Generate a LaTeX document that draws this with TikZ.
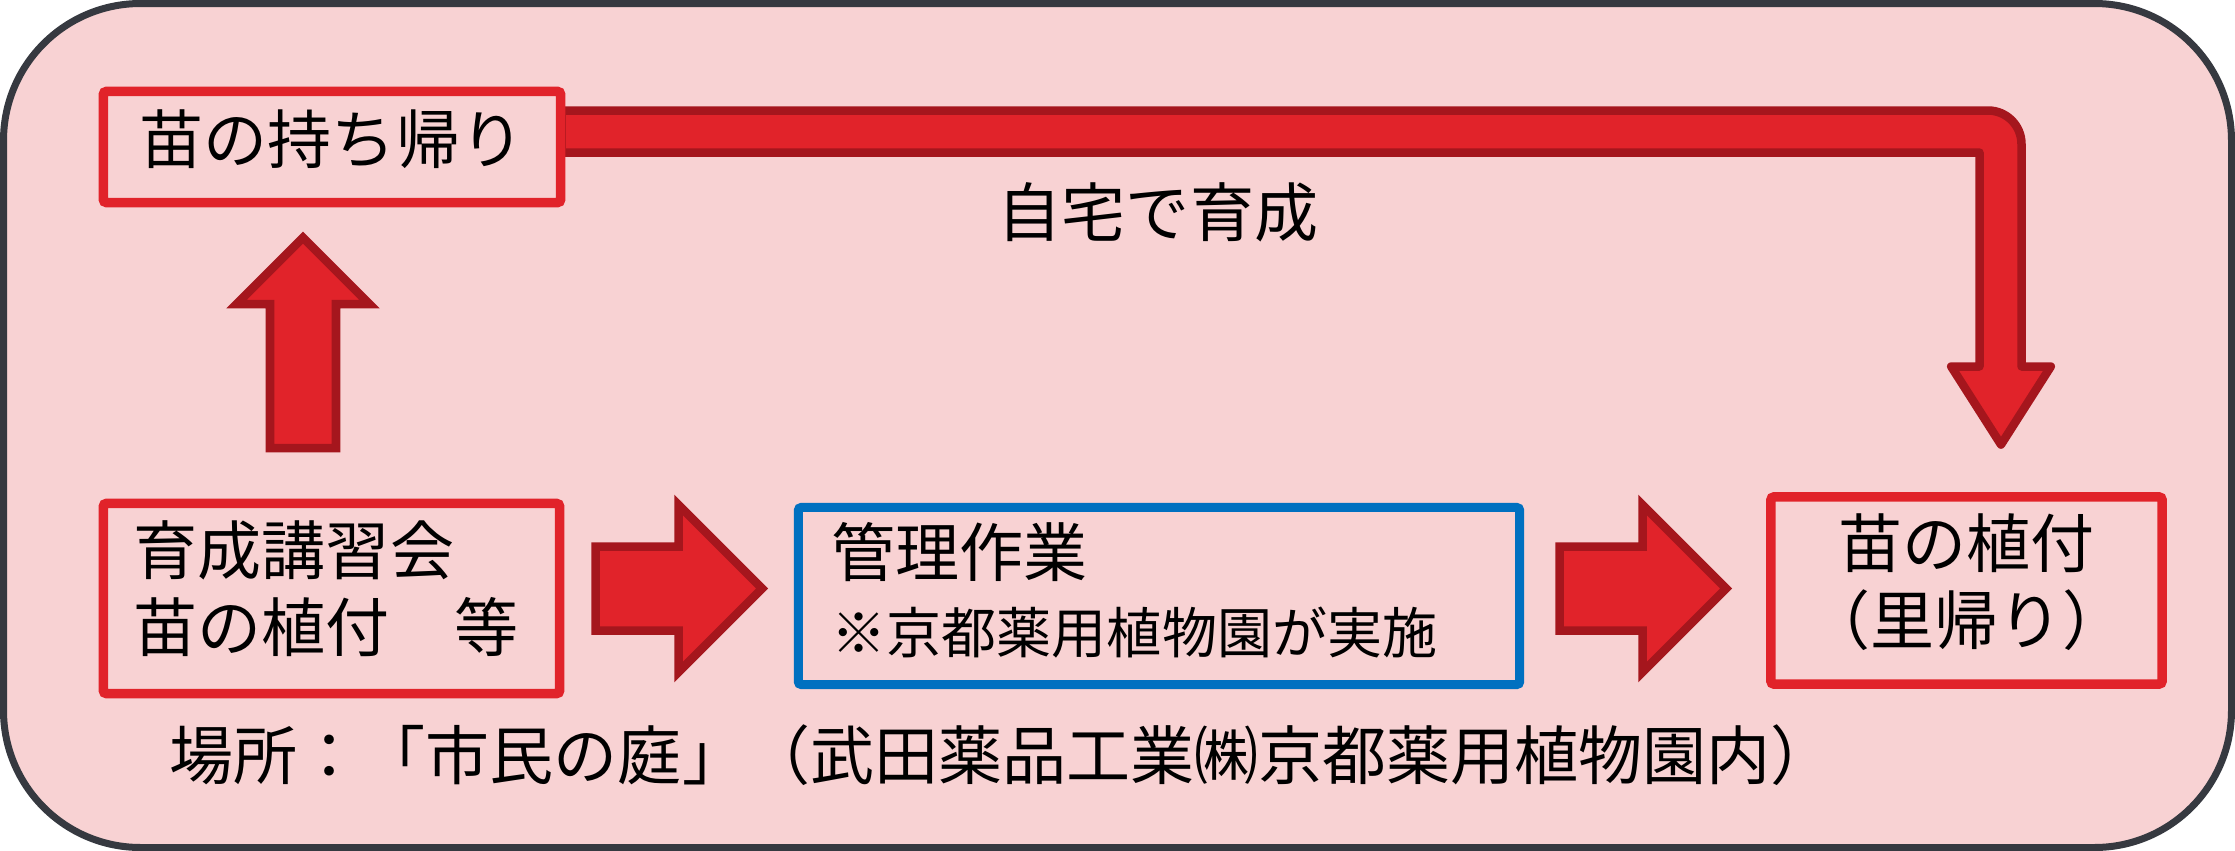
\documentclass[tikz,border=0pt]{standalone}
\usepackage{fontspec}
\setmainfont{Noto Sans CJK JP}
\definecolor{framegray}{HTML}{363940}
\definecolor{bgpink}{HTML}{F8D2D3}
\definecolor{boxred}{HTML}{E1232A}
\definecolor{arrowred}{HTML}{A5161D}
\definecolor{boxblue}{HTML}{0070C0}

\begin{document}
\begin{tikzpicture}[x=0.01cm,y=-0.01cm]
      % Define styles for nodes
      \tikzstyle{redbox} = [draw=boxred, rectangle, rounded corners=0.03cm,
      fill=bgpink, line width=0.095cm, inner sep=0pt, text height=0.55cm,
      font=\fontsize{18.21pt}{21.91pt}\selectfont]
      \tikzstyle{bluebox} = [redbox, draw=boxblue, line width=0.09cm]
      \tikzstyle{plaintext} = [inner sep=0pt,
      font=\fontsize{18.21pt}{21.91pt}\selectfont]
      \tikzstyle{blockarrow} = [draw=arrowred, fill=boxred, line width=0.085cm]

      \useasboundingbox (0,0) rectangle (2235,851);

      % Pink frame with round corners
      \draw[framegray, fill=bgpink, line width=0.07cm, rounded corners=1.37cm]
      (3.5,3.5) rectangle (2231.5,847.5);

      % Big arrows
      \draw[blockarrow] (303,237.7) -- (369.3,304) -- (336,304) -- (336,448)
      -- (270,448) -- (270,304) -- (236.7,304) -- cycle;
      \foreach \dx in {0,964}
      \draw[blockarrow, shift={(\dx,0)}] (595.5,546.5) -- (678.5,546.5)
      -- (678.5,504.9) -- (762.1,588.5) -- (678.5,672.1) -- (678.5,630.5)
      -- (595.5,630.5) -- cycle;
      \draw[blockarrow, line join=round] (561.5,110.5) -- (1988,110.5)
      .. controls (2006.5,110.5) and (2021.5,125.5) .. (2021.5,144)
      -- (2021.5,366.5) -- (2050.8,366.5) -- (2001,444.6) -- (1951.2,366.5)
      -- (1979.5,366.5) -- (1979.5,152.5) -- (561.5,152.5) -- cycle;

      % Boxes
      \node[redbox, minimum width=4.57cm, minimum height=1.11cm,
      text depth=0.224cm] (keep) at (332,147) {苗の持ち帰り};
      \node[redbox, minimum width=4.56cm, minimum height=1.90cm,
      text width=3.95cm, align=left, text depth=1.034cm]
      (course) at (331.5,598.5) {育成講習会\\苗の植付　等};
      \node[bluebox, minimum width=7.21cm, minimum height=1.77cm,
      text width=6.54cm, align=left, text depth=0.944cm]
      (care) at (1159,596)
      {管理作業\\\fontsize{15.65pt}{20.09pt}\selectfont ※京都薬用植物園が実施};
      \node[redbox, minimum width=3.91cm, minimum height=1.87cm,
      text width=3.6cm, align=center, text depth=1.004cm]
      (plant) at (1966.5,590.5) {苗の植付\\（里帰り）};

      % Texts outside the boxes
      \node[plaintext, anchor=base] (home) at (1158,236.3) {自宅で育成};
      \node[plaintext, anchor=base west] (place) at (169,779.3)
      {場所：「市民の庭」（武田薬品工業㈱京都薬用植物園内）};
\end{tikzpicture}
\end{document}
